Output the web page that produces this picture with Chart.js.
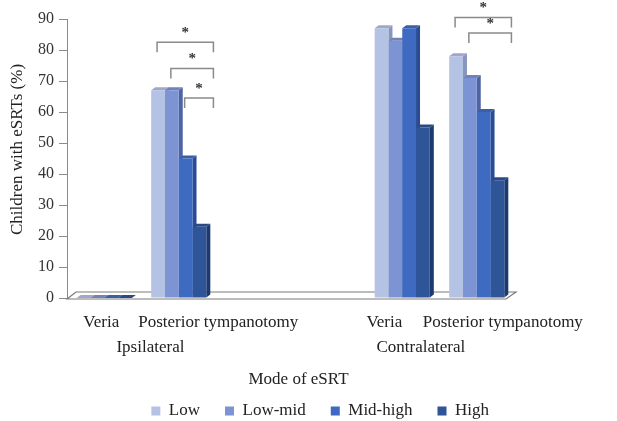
<!DOCTYPE html>
<html>
<head>
<meta charset="utf-8">
<script src="https://cdn.jsdelivr.net/npm/chart.js@4.4.0/dist/chart.umd.min.js"></script>
<style>
  html, body { margin: 0; padding: 0; background: #fff; }
</style>
</head>
<body>
<canvas id="myChart" width="617" height="421"></canvas>
<script>
// categories (two blank slots keep the gap between the groups)
const categories = ['Ipsilateral Veria', 'Ipsilateral Posterior tympanotomy', '', '', 'Contralateral Veria', 'Contralateral Posterior tympanotomy'];

// % of children with eSRTs per group
const low     = [0, 67, null, null, 87, 78];
const lowMid  = [0, 67, null, null, 83, 71];
const midHigh = [0, 45, null, null, 87, 60];
const high    = [0, 23, null, null, 55, 38];

const yTicks = [0, 10, 20, 30, 40, 50, 60, 70, 80, 90];

// axis text under the bars
const subLabels = ['Veria', 'Posterior tympanotomy', 'Veria', 'Posterior tympanotomy'];
const subLabelPos = [-0.04, 1.53, 3.76, 5.35];
const groupLabels = ['Ipsilateral', 'Contralateral'];
const groupLabelPos = [0.62, 4.25];

// significance brackets: category, from series, to series, level (%)
const brackets = [
  { cat: 1, from: 0, to: 3, level: 82.5 },
  { cat: 1, from: 1, to: 3, level: 74 },
  { cat: 1, from: 2, to: 3, level: 64.5 },
  { cat: 5, from: 0, to: 3, level: 90.5 },
  { cat: 5, from: 1, to: 3, level: 85.5 },
];

const FONT = "'Liberation Serif', 'Times New Roman', serif";
const DX = 4, DY = 3; // fake depth

// floor + side / top faces of the columns (drawn behind the front faces)
const bars3d = {
  id: 'bars3d',
  beforeDatasetsDraw(chart) {
    const { ctx, chartArea: a } = chart;
    ctx.save();
    ctx.fillStyle = '#fff';
    ctx.strokeStyle = '#7a7a7a';
    ctx.lineWidth = 1.2;
    ctx.beginPath();
    ctx.moveTo(a.left, a.bottom + 1);
    ctx.lineTo(a.right - 8, a.bottom + 1);
    ctx.lineTo(a.right + 2, a.bottom - 6);
    ctx.lineTo(a.left + 9, a.bottom - 6);
    ctx.closePath();
    ctx.fill();
    ctx.stroke();

    chart.data.datasets.forEach((ds, di) => {
      chart.getDatasetMeta(di).data.forEach((bar, i) => {
        if (ds.data[i] == null) return;
        const { x, y, base, width } = bar.getProps(['x', 'y', 'base', 'width'], true);
        const l = x - width / 2, r = x + width / 2;
        ctx.fillStyle = ds.sideColor;
        ctx.beginPath();
        ctx.moveTo(r, y);
        ctx.lineTo(r + DX, y - DY);
        ctx.lineTo(r + DX, base - DY);
        ctx.lineTo(r, base);
        ctx.closePath();
        ctx.fill();
        ctx.fillStyle = ds.topColor;
        ctx.beginPath();
        ctx.moveTo(l, y);
        ctx.lineTo(l + DX, y - DY);
        ctx.lineTo(r + DX, y - DY);
        ctx.lineTo(r, y);
        ctx.closePath();
        ctx.fill();
      });
    });
    ctx.restore();
  },
  afterDraw(chart) {
    const { ctx, chartArea: a, scales } = chart;
    const xs = scales.x, ys = scales.y;
    ctx.save();
    ctx.fillStyle = '#222';
    ctx.font = '17px ' + FONT;
    ctx.textAlign = 'center';
    ctx.textBaseline = 'middle';
    subLabels.forEach((t, i) => ctx.fillText(t, xs.getPixelForValue(subLabelPos[i]), a.bottom + 25));
    groupLabels.forEach((t, i) => ctx.fillText(t, xs.getPixelForValue(groupLabelPos[i]), a.bottom + 50));
    ctx.fillText('Mode of eSRT', (a.left + a.right) / 2 + 8, a.bottom + 82);

    // y axis title
    ctx.save();
    ctx.translate(18, (a.top + a.bottom) / 2 - 9);
    ctx.rotate(-Math.PI / 2);
    ctx.fillText('Children with eSRTs (%)', 0, 0);
    ctx.restore();

    // brackets
    ctx.strokeStyle = '#8a8a8a';
    ctx.lineWidth = 1.5;
    brackets.forEach(b => {
      const x1 = chart.getDatasetMeta(b.from).data[b.cat].x - 1;
      const x2 = chart.getDatasetMeta(b.to).data[b.cat].x + 14;
      const yy = ys.getPixelForValue(b.level);
      ctx.beginPath();
      ctx.moveTo(x1, yy + 10);
      ctx.lineTo(x1, yy);
      ctx.lineTo(x2, yy);
      ctx.lineTo(x2, yy + 10);
      ctx.stroke();
      ctx.fillStyle = '#333';
      ctx.font = 'bold 15px ' + FONT;
      ctx.fillText('*', (x1 + x2) / 2, yy - 9);
    });
    ctx.restore();
  }
};

const ctx = document.getElementById('myChart').getContext('2d');
const myChart = new Chart(ctx, {
  type: 'bar',
  data: {
    labels: categories,
    datasets: [
      { label: 'Low', data: low, backgroundColor: '#b4c2e4', sideColor: '#8796bd', topColor: '#9ea9c9' },
      { label: 'Low-mid', data: lowMid, backgroundColor: '#7d94d4', sideColor: '#4f63a3', topColor: '#7282b8' },
      { label: 'Mid-high', data: midHigh, backgroundColor: '#3e6ac2', sideColor: '#2a4c94', topColor: '#3b5ea6' },
      { label: 'High', data: high, backgroundColor: '#2f5599', sideColor: '#1d3a70', topColor: '#2a4a85' },
    ],
  },
  options: {
    responsive: false,
    animation: false,
    layout: { padding: { top: 19, right: 103, bottom: -8.5, left: 0 } },
    datasets: { bar: { categoryPercentage: 0.74, barPercentage: 1.0 } },
    plugins: {
      legend: {
        position: 'bottom',
        align: 'end',
        labels: { boxWidth: 9, boxHeight: 9, padding: 25, color: '#222', font: { family: FONT, size: 17 } },
      },
      tooltip: { enabled: false },
    },
    scales: {
      x: {
        ticks: { display: false },
        grid: { display: false },
        border: { display: false },
        afterFit: (s) => { s.height = 79.5; },
      },
      y: {
        min: 0,
        max: 90,
        afterBuildTicks: (s) => { s.ticks = yTicks.map(v => ({ value: v })); },
        afterFit: (s) => { s.width = 67; },
        ticks: { color: '#333', padding: 5, font: { family: FONT, size: 16 } },
        grid: { drawOnChartArea: false, tickLength: 8, color: '#8a8a8a' },
        border: { color: '#8a8a8a' },
      },
    },
  },
  plugins: [bars3d],
});
</script>
</body>
</html>
